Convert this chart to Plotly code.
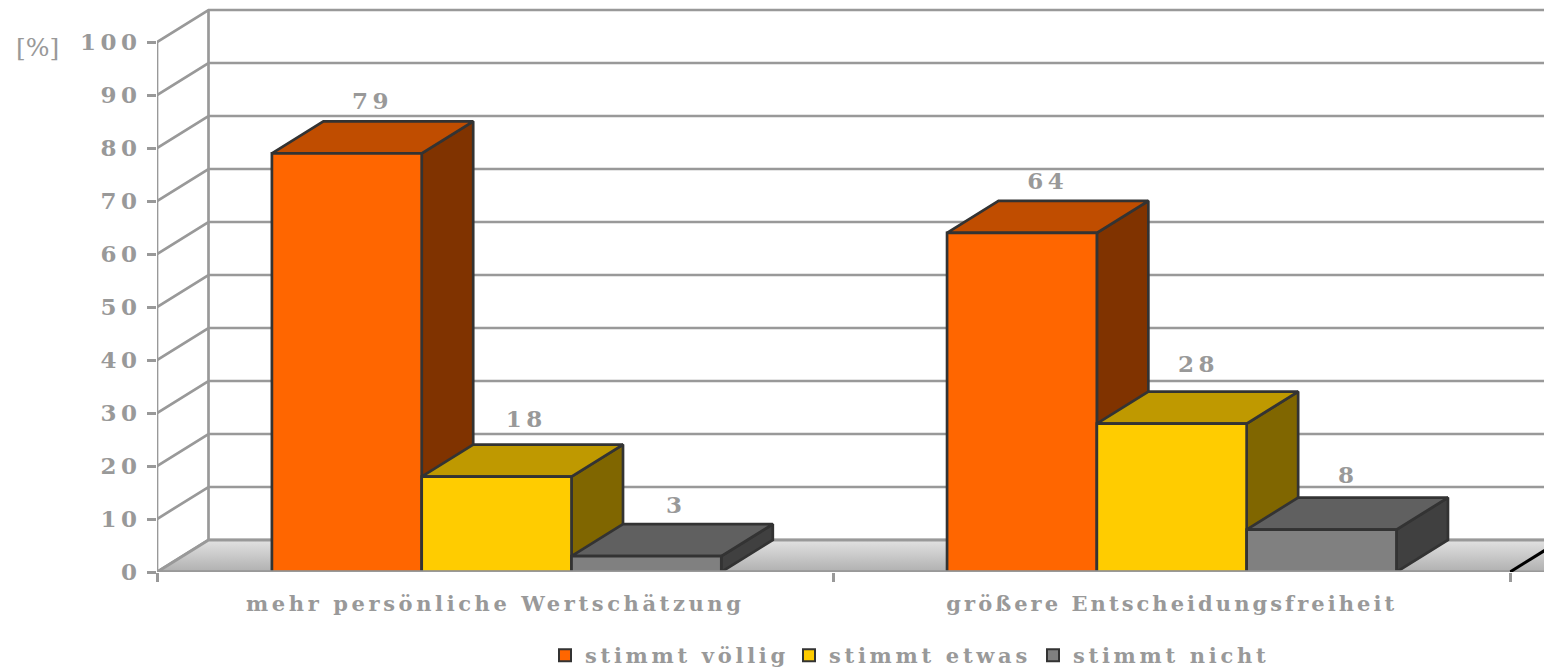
import plotly.graph_objects as go

categories = ["mehr persönliche Wertschätzung", "größere Entscheidungsfreiheit"]
series_names = ["stimmt völlig", "stimmt etwas", "stimmt nicht"]
voellig = [79, 64]
etwas = [18, 28]
nicht = [3, 8]
value_labels = [["79", "64"], ["18", "28"], ["3", "8"]]
y_ticks = [0, 10, 20, 30, 40, 50, 60, 70, 80, 90, 100]

front_colors = ["#FF6600", "#FFCC00", "#808080"]
top_colors = ["#C04D00", "#BF9900", "#606060"]
side_colors = ["#803300", "#806600", "#404040"]
outline = "#333333"
grey = "#999999"
FONT = "DejaVu Serif"

PX_PER_CAT = 676.5
PX_PER_UNIT = 5.3
DX = 51.5 / PX_PER_CAT
DY = 32 / PX_PER_UNIT
BAR_W = 149.8 / PX_PER_CAT
GROUP_SHIFT = [0.002, 0.0]
LABEL_LIFT = [[1.15, 1.15], [2.15, 2.6], [1.0, 1.75]]
LABEL_NUDGE = [[0, 0], [4 / PX_PER_CAT, 1 / PX_PER_CAT], [4 / PX_PER_CAT, 1 / PX_PER_CAT]]
XMIN, XMAX = -0.5, (1544 - 157) / PX_PER_CAT - 0.5
YMAX = 572 / PX_PER_UNIT

fig = go.Figure()


def poly(xs, ys, fill, line=outline, width=2.7, fillgradient=None):
    kw = dict(fillgradient=fillgradient) if fillgradient else dict(fillcolor=fill)
    fig.add_trace(go.Scatter(
        x=xs, y=ys, mode="lines", fill="toself",
        line=dict(color=line, width=width), showlegend=False,
        hoverinfo="skip", cliponaxis=False, **kw))


# walls
gx, gy = [], []
for t in y_ticks:
    gx += [XMIN, XMIN + DX, XMAX + DX, None]
    gy += [t, t + DY, t + DY, None]
fig.add_trace(go.Scatter(x=gx, y=gy, mode="lines", line=dict(color=grey, width=2.7),
                         showlegend=False, hoverinfo="skip", cliponaxis=False))
fig.add_trace(go.Scatter(
    x=[XMIN, XMIN, None, XMIN + DX, XMIN + DX],
    y=[0, y_ticks[-1], None, DY, y_ticks[-1] + DY],
    mode="lines", line=dict(color=grey, width=2.7),
    showlegend=False, hoverinfo="skip", cliponaxis=False))

# floor
poly([XMIN, XMIN + DX, XMAX + DX, XMAX, XMIN], [0, DY, DY, 0, 0], None, line=grey, width=3,
     fillgradient=dict(type="vertical", colorscale=[[0, "#B0B0B0"], [1, "#E2E2E2"]]))
fig.add_trace(go.Scatter(x=[1.5, 1.5 + DX], y=[0, DY], mode="lines",
                         line=dict(color="#000000", width=3),
                         showlegend=False, hoverinfo="skip", cliponaxis=False))

# bars
all_values = [voellig, etwas, nicht]
for g in range(len(categories)):
    for s, vals in enumerate(all_values):
        v = vals[g]
        x0 = g + GROUP_SHIFT[g] + (s - 1.5) * BAR_W
        x1 = x0 + BAR_W
        poly([x1, x1 + DX, x1 + DX, x1, x1], [0, DY, v + DY, v, 0], side_colors[s])
        poly([x0, x0 + DX, x1 + DX, x1, x0], [v, v + DY, v + DY, v, v], top_colors[s])
        poly([x0, x1, x1, x0, x0], [0, 0, v, v, 0], front_colors[s])

# bottom edge over the bar feet
fig.add_trace(go.Scatter(x=[XMIN, 1.5], y=[0, 0], mode="lines", line=dict(color=grey, width=3.5),
                         showlegend=False, hoverinfo="skip", cliponaxis=False))

# value labels
lx, ly, lt = [], [], []
for s, vals in enumerate(all_values):
    for g, v in enumerate(vals):
        lx.append(g + GROUP_SHIFT[g] + (s - 1) * BAR_W + DX / 2 + LABEL_NUDGE[s][g])
        ly.append(v + DY + LABEL_LIFT[s][g])
        lt.append(value_labels[s][g])
fig.add_trace(go.Scatter(x=lx, y=ly, mode="text", text=lt, textposition="top center",
                         textfont=dict(family=FONT, size=23, color=grey, weight="bold"),
                         showlegend=False, hoverinfo="skip", cliponaxis=False))

# legend entries
for s, name in enumerate(series_names):
    fig.add_trace(go.Scatter(
        x=[None], y=[None], mode="markers", name=name,
        marker=dict(symbol="square", size=15, color=front_colors[s],
                    line=dict(color=outline, width=3))))

fig.add_annotation(text="[%]", xref="paper", yref="paper", xanchor="center", yanchor="middle",
                   x=37 / 1544, y=(671 - 48) / 671, showarrow=False,
                   font=dict(family=FONT, size=25, color=grey))

fig.update_layout(
    width=1544, height=671, autosize=False,
    margin=dict(l=0, r=0, t=0, b=0, pad=0, autoexpand=False),
    paper_bgcolor="white", plot_bgcolor="white",
    showlegend=True,
    legend=dict(orientation="h", x=545 / 1544, xanchor="left",
                y=(671 - 635) / 671, yanchor="top", tracegroupgap=0,
                entrywidth=199, entrywidthmode="pixels",
                bgcolor="rgba(0,0,0,0)", itemsizing="constant",
                font=dict(family=FONT, size=21, color=grey, weight="bold")),
    xaxis=dict(domain=[157 / 1544, 1], range=[XMIN, XMAX],
               tickmode="array", tickvals=[0, 1], ticktext=categories,
               ticks="", showgrid=False, zeroline=False, showline=False,
               ticklabelstandoff=17,
               tickfont=dict(family=FONT, size=21, color=grey, weight="bold"),
               minor=dict(tickmode="array", tickvals=[-0.5, 0.5, 1.5], ticks="outside",
                          ticklen=9, tickwidth=2.5, tickcolor=grey, showgrid=False)),
    yaxis=dict(domain=[99 / 671, 1], range=[0, YMAX], tickmode="array", tickvals=y_ticks,
               ticks="outside", ticklen=9, tickwidth=3, tickcolor=grey, showgrid=False,
               zeroline=False, showline=False, ticklabelstandoff=1,
               tickfont=dict(family=FONT, size=23, color=grey, weight="bold")),
)

post = """
document.body.style.margin='0';
document.documentElement.style.overflow='hidden';
var st=document.createElement('style');
st.textContent='.xtick text{letter-spacing:3.6px}.xtick:last-of-type text{letter-spacing:3.05px}.ytick text{letter-spacing:4.5px}.legendtext{letter-spacing:3.7px}.textpoint text{letter-spacing:4.5px}';
document.head.appendChild(st);
"""
fig.write_html("out.html", post_script=post, config={"displayModeBar": False})
